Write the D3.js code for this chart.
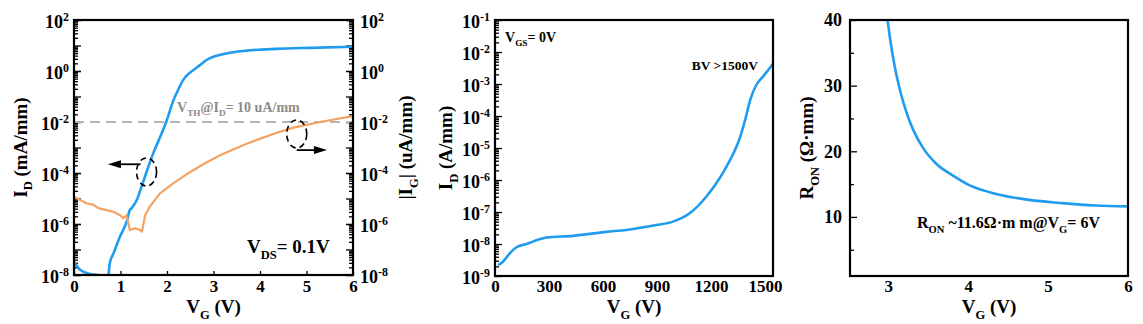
<!DOCTYPE html>
<html><head><meta charset="utf-8">
<script src="https://cdn.jsdelivr.net/npm/d3@7"></script>
<style>
body{margin:0;background:#fff}
svg{display:block}
text{font-family:"Liberation Serif","Times New Roman",serif;font-weight:bold}
</style>
</head><body>
<svg id="c" width="1143" height="324"></svg>
<script>
// ---------- data ----------
// Panel (a): transfer curve, Vds = 0.1 V
const vgId = [0, 0.13, 0.34, 0.52, 0.62, 0.73, 0.77, 0.85, 0.99, 1.13, 1.20, 1.24, 1.35, 1.46, 1.56, 1.71, 1.85, 1.99, 2.14, 2.25, 2.35, 2.45, 2.57, 2.70, 2.85, 3.28, 3.71, 4.36, 5.08, 6.0];
const idVals = [3.3e-8, 1.6e-8, 1.1e-8, 9.8e-9, 7e-9, 8e-9, 2.9e-8, 7.1e-8, 3.2e-7, 1.2e-6, 3.5e-6, 4.2e-6, 8.7e-6, 3.2e-5, 1.1e-4, 6.3e-4, 2.5e-3, 1.1e-2, 7.2e-2, 0.2, 0.45, 0.74, 1.1, 1.66, 2.7, 4.9, 6.3, 7.4, 8.1, 8.9];
const vgIg = [0, 0.13, 0.27, 0.42, 0.52, 0.70, 0.85, 0.99, 1.06, 1.13, 1.20, 1.31, 1.42, 1.46, 1.53, 1.63, 1.85, 2.14, 2.42, 2.78, 3.14, 3.50, 3.71, 4.36, 4.72, 5.29, 6.0];
const igVals = [1.17e-5, 8.7e-6, 6.5e-6, 5.6e-6, 4.2e-6, 3.5e-6, 3.0e-6, 2.2e-6, 1.7e-6, 2.2e-6, 5.8e-7, 6.8e-7, 5.8e-7, 5.0e-7, 2.2e-6, 4.8e-6, 1.6e-5, 4.0e-5, 8.9e-5, 2.2e-4, 5.0e-4, 9.5e-4, 1.4e-3, 3.8e-3, 6.0e-3, 1.0e-2, 1.7e-2];
const vthLevel = 1e-2;
// annotation anchors (V, current)
const leftMark = {v: 1.56, i: 1.1e-4, toV: 0.73, arrowI: 2.2e-4};
const rightMark = {v: 4.79, i: 3.4e-3, toV: 5.44, arrowI: 7.9e-4};

// Panel (b): off-state breakdown, Vgs = 0 V
const vdBv = [17, 44, 82, 119, 174, 248, 285, 433, 619, 730, 897, 989, 1082, 1174, 1230, 1270, 1300, 1330, 1360, 1390, 1420, 1452, 1489, 1526, 1544];
const idBv = [2.2e-9, 2.8e-9, 5.1e-9, 7.9e-9, 1.0e-8, 1.4e-8, 1.6e-8, 1.8e-8, 2.4e-8, 2.75e-8, 3.9e-8, 5.0e-8, 9.1e-8, 3.0e-7, 7.9e-7, 1.8e-6, 3.6e-6, 7.8e-6, 2.0e-5, 7.5e-5, 3.4e-4, 9.3e-4, 1.7e-3, 3.1e-3, 4.2e-3];

// Panel (c): on-resistance
const vgRon = [2.99, 3.02, 3.08, 3.146, 3.23, 3.31, 3.44, 3.60, 3.81, 4.02, 4.35, 4.76, 5.18, 5.59, 6.0];
const ronVals = [40, 37.3, 32.9, 29.3, 25.8, 23.3, 20.4, 18.1, 16.3, 14.8, 13.5, 12.6, 12.1, 11.75, 11.6];

// tick labels
const p1YExp = ["-8", "-6", "-4", "-2", "0", "2"];
const p1XTicks = [0, 1, 2, 3, 4, 5, 6];
const p2YExp = ["-9", "-8", "-7", "-6", "-5", "-4", "-3", "-2", "-1"];
const p2XTicks = [0, 300, 600, 900, 1200, 1500];
const p3XTicks = [3, 4, 5, 6];
const p3YTicks = [10, 20, 30, 40];
const p3YMinor = [5, 15, 25, 35];

// ---------- helpers ----------
const BLUE = "#1f9cf0", ORANGE = "#f4a262";
const svg = d3.select("#c");
const fmtInt = d3.format("d");

function rich(t, parts, size) {
  let cur = 0;
  parts.forEach(([s, type]) => {
    let target = 0, fs = size;
    if (type === "sub") { target = size * 0.3; fs = size * 0.66; }
    if (type === "sup") { target = -size * 0.42; fs = size * 0.66; }
    t.append("tspan").attr("dy", target - cur).attr("font-size", fs).text(s);
    cur = target;
  });
  return t;
}

function powLabels(g, exps, size) {
  g.selectAll(".tick text").each(function (d, i) {
    const t = d3.select(this);
    t.text(null).attr("dy", "0.42em").attr("font-size", size);
    t.append("tspan").text("10");
    t.append("tspan").attr("dy", -7).attr("font-size", size * 0.66).text(exps[i]);
  });
}

function cleanAxis(g) {
  g.select(".domain").remove();
  g.selectAll(".tick line").attr("stroke", "#000").attr("stroke-width", 1.3);
  g.selectAll("text").attr("fill", "#000").attr("font-family", null);
}

function decadeMinors(lo, hi) {
  const out = [];
  for (let e = lo; e < hi; e++) for (let m = 2; m <= 9; m++) out.push(m * Math.pow(10, e));
  return out;
}

function frame(P) {
  svg.append("rect").attr("x", P.l).attr("y", P.t).attr("width", P.r - P.l).attr("height", P.b - P.t)
    .attr("fill", "none").attr("stroke", "#000").attr("stroke-width", 2.2);
}

function clip(id, P) {
  svg.append("clipPath").attr("id", id).append("rect")
    .attr("x", P.l).attr("y", P.t).attr("width", P.r - P.l).attr("height", P.b - P.t);
}

function xTitle(P, y) {
  rich(svg.append("text").attr("x", (P.l + P.r) / 2).attr("y", y).attr("text-anchor", "middle").attr("font-size", 19),
    [["V", ""], ["G", "sub"], [" (V)", ""]], 19);
}
function yTitle(x, y, parts) {
  rich(svg.append("text").attr("transform", `translate(${x},${y}) rotate(-90)`).attr("text-anchor", "middle").attr("font-size", 19),
    parts, 19);
}

// ---------- Panel 1 ----------
const P1 = {l: 74, r: 353, t: 20, b: 275};
const x1 = d3.scaleLinear().domain([0, 6]).range([P1.l, P1.r]);
const y1 = d3.scaleLog().domain([1e-8, 1e2]).range([P1.b, P1.t]);
clip("cp1", P1);

const p1Major = p1YExp.map(e => Math.pow(10, +e));
const p1Decades = d3.range(-8, 3).map(e => Math.pow(10, e));
const p1Minor = decadeMinors(-8, 2);

// left axis
let g = svg.append("g").attr("transform", `translate(${P1.l},0)`)
  .call(d3.axisLeft(y1).tickValues(p1Major).tickSizeInner(-7).tickSizeOuter(0).tickPadding(5));
cleanAxis(g); powLabels(g, p1YExp, 18);
g = svg.append("g").attr("transform", `translate(${P1.l},0)`)
  .call(d3.axisLeft(y1).tickValues(p1Decades).tickSizeInner(-7).tickSizeOuter(0).tickFormat(() => ""));
cleanAxis(g);
g = svg.append("g").attr("transform", `translate(${P1.l},0)`)
  .call(d3.axisLeft(y1).tickValues(p1Minor).tickSizeInner(-4).tickSizeOuter(0).tickFormat(() => ""));
cleanAxis(g);
// right axis
g = svg.append("g").attr("transform", `translate(${P1.r},0)`)
  .call(d3.axisRight(y1).tickValues(p1Major).tickSizeInner(-7).tickSizeOuter(0).tickPadding(7));
cleanAxis(g); powLabels(g, p1YExp, 18);
g = svg.append("g").attr("transform", `translate(${P1.r},0)`)
  .call(d3.axisRight(y1).tickValues(p1Decades).tickSizeInner(-7).tickSizeOuter(0).tickFormat(() => ""));
cleanAxis(g);
g = svg.append("g").attr("transform", `translate(${P1.r},0)`)
  .call(d3.axisRight(y1).tickValues(p1Minor).tickSizeInner(-4).tickSizeOuter(0).tickFormat(() => ""));
cleanAxis(g);
// x axis
g = svg.append("g").attr("transform", `translate(0,${P1.b})`)
  .call(d3.axisBottom(x1).tickValues(p1XTicks).tickFormat(fmtInt).tickSizeInner(-4).tickSizeOuter(0).tickPadding(5));
cleanAxis(g); g.selectAll("text").attr("font-size", 17);

// Vth dashed line
svg.append("line").attr("x1", x1(0)).attr("x2", x1(5.94)).attr("y1", y1(vthLevel)).attr("y2", y1(vthLevel))
  .attr("stroke", "#b5b5b5").attr("stroke-width", 2).attr("stroke-dasharray", "10,6");

// curves
const lineId = d3.line().x((d, i) => x1(vgId[i])).y(d => y1(d)).curve(d3.curveMonotoneX);
svg.append("path").datum(idVals).attr("d", lineId).attr("fill", "none").attr("stroke", BLUE)
  .attr("stroke-width", 2.6).attr("clip-path", "url(#cp1)");
const lineIg = d3.line().x((d, i) => x1(vgIg[i])).y(d => y1(d));
svg.append("path").datum(igVals).attr("d", lineIg).attr("fill", "none").attr("stroke", ORANGE)
  .attr("stroke-width", 2.2).attr("stroke-linejoin", "round").attr("clip-path", "url(#cp1)");

frame(P1);

// annotations
rich(svg.append("text").attr("x", 177).attr("y", 112).attr("font-size", 14).attr("fill", "#8c8c8c"),
  [["V", ""], ["TH", "sub"], ["@I", ""], ["D", "sub"], ["= 10 uA/mm", ""]], 14);
rich(svg.append("text").attr("x", 247).attr("y", 253).attr("font-size", 19).attr("fill", "#000"),
  [["V", ""], ["DS", "sub"], ["= 0.1V", ""]], 19);

function mark(m, dir) {
  svg.append("ellipse").attr("cx", x1(m.v)).attr("cy", y1(m.i)).attr("rx", 10).attr("ry", 14)
    .attr("fill", "none").attr("stroke", "#000").attr("stroke-width", 1.6).attr("stroke-dasharray", "6,4");
  const xs = dir < 0 ? x1(m.v) - 6 : x1(m.v);
  const xe = x1(m.toV);
  const ya = y1(m.arrowI);
  svg.append("line").attr("x1", xs).attr("x2", xe - dir * 10).attr("y1", ya).attr("y2", ya)
    .attr("stroke", "#000").attr("stroke-width", 1.8);
  svg.append("path").attr("d", `M${xe},${ya} L${xe - dir * 13},${ya - 4} L${xe - dir * 13},${ya + 4} Z`).attr("fill", "#000");
}
mark(leftMark, -1);
mark(rightMark, 1);

xTitle(P1, 313);
yTitle(26.5, (P1.t + P1.b) / 2, [["I", ""], ["D", "sub"], [" (mA/mm)", ""]]);
yTitle(412, (P1.t + P1.b) / 2, [["|I", ""], ["G", "sub"], ["| (uA/mm)", ""]]);

// ---------- Panel 2 ----------
const P2 = {l: 495, r: 773, t: 20, b: 276};
const x2 = d3.scaleLinear().domain([0, 1545]).range([P2.l, P2.r]);
const y2 = d3.scaleLog().domain([1e-9, 1e-1]).range([P2.b, P2.t]);
clip("cp2", P2);
const p2Major = p2YExp.map(e => Math.pow(10, +e));
g = svg.append("g").attr("transform", `translate(${P2.l},0)`)
  .call(d3.axisLeft(y2).tickValues(p2Major).tickSizeInner(-7).tickSizeOuter(0).tickPadding(5));
cleanAxis(g); powLabels(g, p2YExp, 18);
g = svg.append("g").attr("transform", `translate(${P2.l},0)`)
  .call(d3.axisLeft(y2).tickValues(decadeMinors(-9, -1)).tickSizeInner(-4).tickSizeOuter(0).tickFormat(() => ""));
cleanAxis(g);
g = svg.append("g").attr("transform", `translate(0,${P2.b})`)
  .call(d3.axisBottom(x2).tickValues(p2XTicks).tickFormat(fmtInt).tickSizeInner(0).tickSizeOuter(0).tickPadding(4));
cleanAxis(g); g.selectAll("text").attr("font-size", 17);

const lineBv = d3.line().x((d, i) => x2(vdBv[i])).y(d => y2(d)).curve(d3.curveMonotoneX);
svg.append("path").datum(idBv).attr("d", lineBv).attr("fill", "none").attr("stroke", BLUE)
  .attr("stroke-width", 2.6).attr("clip-path", "url(#cp2)");
frame(P2);
rich(svg.append("text").attr("x", 505).attr("y", 42).attr("font-size", 14).attr("fill", "#000"),
  [["V", ""], ["GS", "sub"], ["= 0V", ""]], 14);
svg.append("text").attr("x", 758).attr("y", 70).attr("text-anchor", "end").attr("font-size", 13.5).text("BV >1500V");
xTitle(P2, 313);
yTitle(452, (P2.t + P2.b) / 2, [["I", ""], ["D", "sub"], [" (A/mm)", ""]]);

// ---------- Panel 3 ----------
const P3 = {l: 850, r: 1128, t: 20, b: 276};
const x3 = d3.scaleLinear().domain([2.52, 6]).range([P3.l, P3.r]);
const y3 = d3.scaleLinear().domain([1, 40]).range([P3.b, P3.t]);
clip("cp3", P3);
g = svg.append("g").attr("transform", `translate(${P3.l},0)`)
  .call(d3.axisLeft(y3).tickValues(p3YTicks).tickSizeInner(-7).tickSizeOuter(0).tickPadding(8));
cleanAxis(g); g.selectAll("text").attr("font-size", 18);
g = svg.append("g").attr("transform", `translate(${P3.l},0)`)
  .call(d3.axisLeft(y3).tickValues(p3YMinor).tickSizeInner(-4).tickSizeOuter(0).tickFormat(() => ""));
cleanAxis(g);
g = svg.append("g").attr("transform", `translate(0,${P3.b})`)
  .call(d3.axisBottom(x3).tickValues(p3XTicks).tickFormat(fmtInt).tickSizeInner(0).tickSizeOuter(0).tickPadding(4));
cleanAxis(g); g.selectAll("text").attr("font-size", 17);

const lineRon = d3.line().x((d, i) => x3(vgRon[i])).y(d => y3(d)).curve(d3.curveMonotoneX);
svg.append("path").datum(ronVals).attr("d", lineRon).attr("fill", "none").attr("stroke", BLUE)
  .attr("stroke-width", 2.6).attr("clip-path", "url(#cp3)");
frame(P3);
rich(svg.append("text").attr("x", 917).attr("y", 228).attr("font-size", 16).attr("fill", "#000"),
  [["R", ""], ["ON", "sub"], [" ~11.6\u03A9\u00B7m m@V", ""], ["G", "sub"], ["= 6V", ""]], 16);
xTitle(P3, 313);
yTitle(813, (P3.t + P3.b) / 2, [["R", ""], ["ON", "sub"], [" (\u03A9\u00B7mm)", ""]]);
</script>
</body></html>
